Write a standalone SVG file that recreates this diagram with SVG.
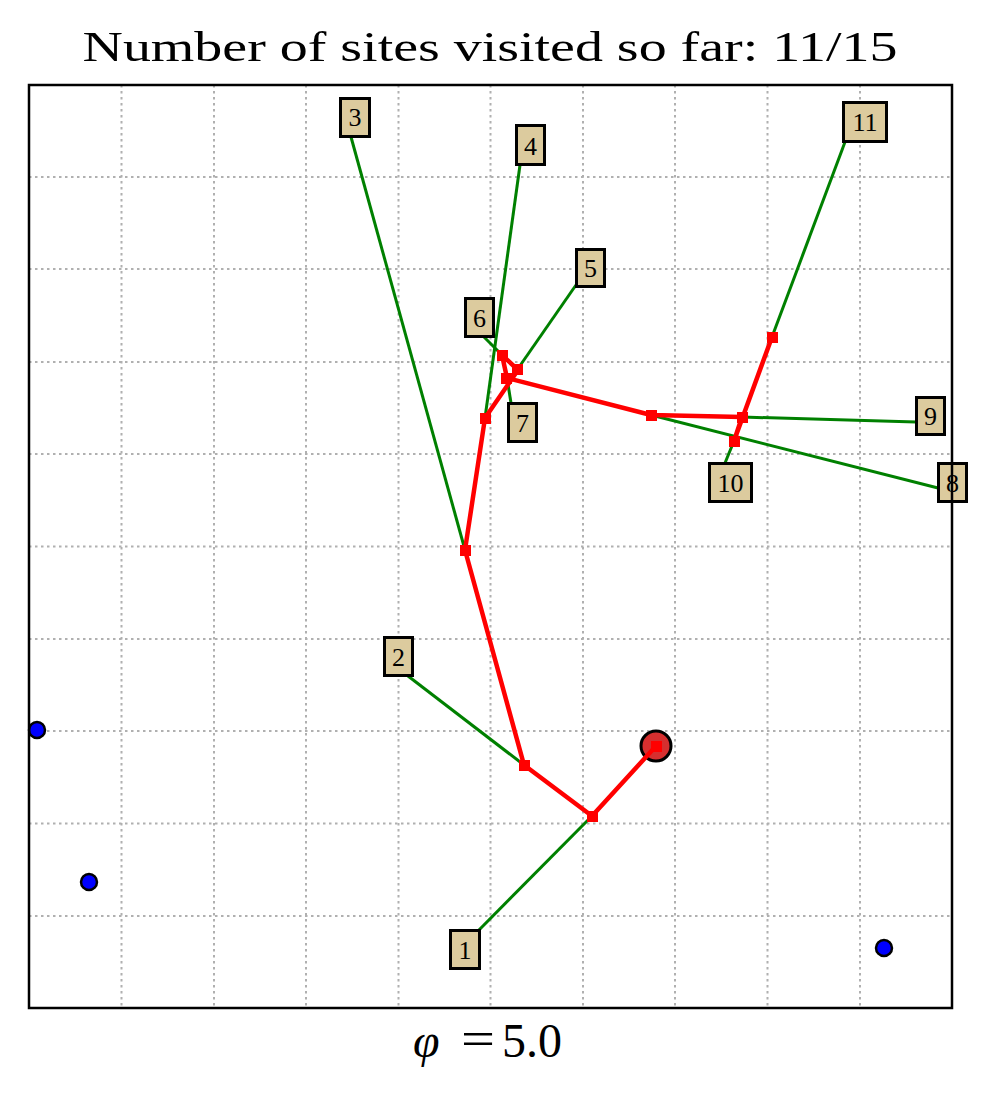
<svg xmlns="http://www.w3.org/2000/svg" width="984" height="1093" viewBox="0 0 984 1093">
<style>
.grid{stroke:#b0b0b0;stroke-width:2;stroke-dasharray:2.5 3.5;fill:none}
.g{stroke:#008000;stroke-width:3;fill:none}
.r{stroke:#ff0000;stroke-width:4.5;fill:none;stroke-linejoin:round}
.sq{fill:#ff0000}
.lb rect{fill:#dccb9e;stroke:#000;stroke-width:3}
.lb text{font-family:"Liberation Serif",serif;font-size:26px;text-anchor:middle;fill:#000}
.site{fill:#0000ff;stroke:#000;stroke-width:2.5}
.ttl{font-family:"Liberation Serif",serif;font-size:42px;fill:#000}
.xl{font-family:"Liberation Serif",serif;font-size:48px;fill:#000}
</style>
<rect width="984" height="1093" fill="#fff"/>
<text class="ttl" x="490" y="61" text-anchor="middle" textLength="815" lengthAdjust="spacingAndGlyphs">Number of sites visited so far: 11/15</text>
<g id="grid">
<path class="grid" d="M121.5 85V1008M214 85V1008M306 85V1008M398.5 85V1008M490.5 85V1008M583 85V1008M675 85V1008M767.5 85V1008M860 85V1008"/>
<path class="grid" d="M29 177H952M29 269H952M29 362H952M29 454H952M29 546.5H952M29 639H952M29 731H952M29 823.5H952M29 916H952"/>
</g>
<g id="sites">
<circle class="site" cx="37" cy="730" r="8"/>
<circle class="site" cx="89" cy="882" r="8"/>
<circle class="site" cx="884" cy="948" r="8"/>
<circle cx="457" cy="963" r="7" fill="#000"/>
</g>
<g id="connectors">
<path class="g" d="M478 931L592 816"/>
<path class="g" d="M408 676L524 765"/>
<path class="g" d="M351 137L465 550"/>
<path class="g" d="M520 165L485 418"/>
<path class="g" d="M576 285L517 370"/>
<path class="g" d="M484 337L502 355"/>
<path class="g" d="M507 378L511 403"/>
<path class="g" d="M651 415L938 488"/>
<path class="g" d="M742 417L916 422"/>
<path class="g" d="M734 441L725 463"/>
<path class="g" d="M845 142L772 337"/>
<circle cx="656" cy="746" r="15" fill="#d62f2f" stroke="#000" stroke-width="3"/>
<path class="r" d="M656 746L592 816L524 765L465 550L485 418L518 370L502 355L507 378L651 415L742 417L734 441L772 337"/>
<g class="sq">
<rect x="651" y="741" width="11" height="11"/>
<rect x="587" y="811" width="11" height="11"/>
<rect x="519" y="760" width="11" height="11"/>
<rect x="460" y="545" width="11" height="11"/>
<rect x="480" y="413" width="11" height="11"/>
<rect x="512" y="364" width="11" height="11"/>
<rect x="497" y="350" width="11" height="11"/>
<rect x="501" y="373" width="11" height="11"/>
<rect x="646" y="410" width="11" height="11"/>
<rect x="737" y="412" width="11" height="11"/>
<rect x="729" y="436" width="11" height="11"/>
<rect x="767" y="332" width="11" height="11"/>
</g>
</g>
<g id="n1" class="lb"><rect x="450.5" y="930.5" width="29" height="38"/><text x="465" y="959">1</text></g>
<g id="n2" class="lb"><rect x="384.5" y="637.5" width="28" height="38"/><text x="398.5" y="666">2</text></g>
<g id="n3" class="lb"><rect x="340.5" y="98.5" width="29" height="38"/><text x="355" y="126">3</text></g>
<g id="n4" class="lb"><rect x="516.5" y="125.5" width="28" height="39"/><text x="530.5" y="155">4</text></g>
<g id="n5" class="lb"><rect x="576.5" y="249.5" width="28" height="37"/><text x="590.5" y="277">5</text></g>
<g id="n6" class="lb"><rect x="465.5" y="298.5" width="28" height="38"/><text x="479.5" y="327">6</text></g>
<g id="n7" class="lb"><rect x="508.5" y="403.5" width="28" height="38"/><text x="522.5" y="432">7</text></g>
<g id="n8" class="lb"><rect x="938.5" y="463.5" width="28" height="38"/><text x="952.5" y="492">8</text></g>
<g id="n9" class="lb"><rect x="916.5" y="397.5" width="28" height="37"/><text x="930.5" y="425">9</text></g>
<g id="n10" class="lb"><rect x="709.5" y="463.5" width="42" height="38"/><text x="730.5" y="492">10</text></g>
<g id="n11" class="lb"><rect x="843.5" y="102.5" width="43" height="39"/><text x="865" y="131">11</text></g>
<rect x="29" y="85" width="923" height="923" fill="none" stroke="#000" stroke-width="2.5"/>
<text class="xl" x="413" y="1057" font-style="italic">φ</text>
<text class="xl" x="461" y="1055" textLength="34" lengthAdjust="spacingAndGlyphs">=</text>
<text class="xl" x="502" y="1057">5.0</text>
</svg>
